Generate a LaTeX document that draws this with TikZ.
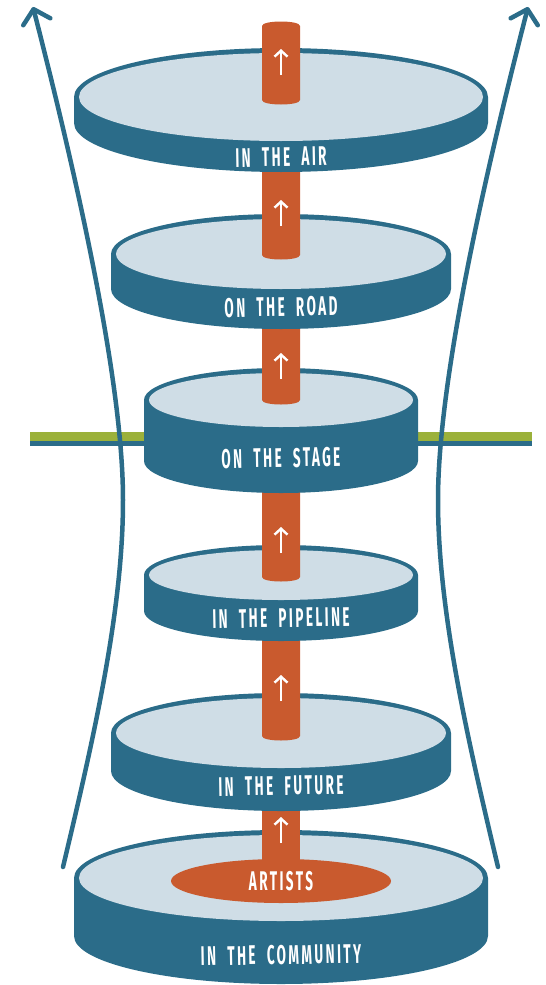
\documentclass[tikz,border=0pt]{standalone}
\usepackage{fontspec}
\newfontfamily\labelfont{Fira Sans}[FakeStretch=0.5,LetterSpace=9,WordSpace=2]
\usetikzlibrary{arrows.meta,positioning,calc}
\definecolor{discblue}{HTML}{2B6C89}
\definecolor{disctop}{HTML}{CFDDE6}
\definecolor{pillar}{HTML}{C95A2E}
\definecolor{barGreen}{HTML}{9BB13A}
\begin{document}
\begin{tikzpicture}[x=1pt,y=-1pt,
	rim/.style={fill=discblue},
	face/.style={fill=disctop},
	column/.style={fill=pillar},
	uparrow/.style={white,line width=2.4pt,-{Straight Barb[length=6pt,width=13pt]}},
	sidearrow/.style={discblue,line width=4.5pt,line cap=round,-{Straight Barb[length=13pt,width=28pt,round]}},
	disclabel/.style={text=white,font=\labelfont\bfseries\fontsize{27}{27}\selectfont,inner sep=0pt,rotate=1}]
	\useasboundingbox (0,0) rectangle (546,985);

	% stage line
	\fill[barGreen] (30,432) rectangle (532,441);
	\fill[discblue] (30,441) rectangle (532,446);

	% side arrows
	\coordinate (lbot) at (63,867);
	\coordinate (lmid) at (123,500);
	\coordinate (ltop) at (33,7);
	\coordinate (rbot) at (498,867);
	\coordinate (rmid) at (438,500);
	\coordinate (rtop) at (528,7);
	\draw[sidearrow] (lbot) .. controls (94,737) and (123,610) .. (lmid)
		.. controls (123,385) and (80,190) .. (ltop);
	\draw[sidearrow] (rbot) .. controls (467,737) and (438,610) .. (rmid)
		.. controls (438,385) and (481,190) .. (rtop);

	% Disc 6
	\fill[rim] (74,878) -- (74,936) arc[start angle=180,end angle=0,x radius=207,y radius=48] -- (488,878) arc[start angle=0,end angle=-180,x radius=207,y radius=48] -- cycle;
	\fill[face] (281,878) ellipse[x radius=202,y radius=43];
	\fill[column] (262,790) -- (262,880) -- (300,880) -- (300,790) -- cycle;
	\fill[column] (281,881) ellipse[x radius=110,y radius=22];
	\draw[uparrow] (281,843) -- (281,817);

	% Disc 5
	\fill[rim] (111,733) -- (111,771) arc[start angle=180,end angle=0,x radius=170,y radius=40] -- (451,733) arc[start angle=0,end angle=-180,x radius=170,y radius=40] -- cycle;
	\fill[face] (281,733) ellipse[x radius=165,y radius=35];
	\fill[column] (262,620) -- (262,736) .. controls (262,742) and (300,742) .. (300,736) -- (300,620) -- cycle;
	\draw[uparrow] (281,701) -- (281,675);

	% Disc 4
	\fill[rim] (144,575) -- (144,611) arc[start angle=180,end angle=0,x radius=137,y radius=30] -- (418,575) arc[start angle=0,end angle=-180,x radius=137,y radius=30] -- cycle;
	\fill[face] (281,575) ellipse[x radius=132,y radius=25];
	\fill[column] (262,470) -- (262,577) .. controls (262,583) and (300,583) .. (300,577) -- (300,470) -- cycle;
	\draw[uparrow] (281,553) -- (281,527);

	% Disc 3
	\fill[rim] (144,400) -- (144,461) arc[start angle=180,end angle=0,x radius=137,y radius=32] -- (418,400) arc[start angle=0,end angle=-180,x radius=137,y radius=32] -- cycle;
	\fill[face] (281,400) ellipse[x radius=132,y radius=27];
	\fill[column] (262,300) -- (262,400) .. controls (262,406) and (300,406) .. (300,400) -- (300,300) -- cycle;
	\draw[uparrow] (281,379) -- (281,353);

	% Disc 2
	\fill[rim] (111,254) -- (111,289) arc[start angle=180,end angle=0,x radius=170,y radius=40] -- (451,254) arc[start angle=0,end angle=-180,x radius=170,y radius=40] -- cycle;
	\fill[face] (281,254) ellipse[x radius=165,y radius=35];
	\fill[column] (262,150) -- (262,255) .. controls (262,261) and (300,261) .. (300,255) -- (300,150) -- cycle;
	\draw[uparrow] (281,226) -- (281,200);

	% Disc 1
	\fill[rim] (74,97) -- (74,123) arc[start angle=180,end angle=0,x radius=207,y radius=49] -- (488,97) arc[start angle=0,end angle=-180,x radius=207,y radius=49] -- cycle;
	\fill[face] (281,97) ellipse[x radius=202,y radius=44];
	\fill[column] (262,26) .. controls (262,20) and (300,20) .. (300,26) -- (300,100) .. controls (300,106) and (262,106) .. (262,100) -- cycle;
	\draw[uparrow] (281,75) -- (281,49);

	% labels
	\node[disclabel] (air) at (281,157) {IN THE AIR};
	\node[disclabel] (road) at (281,307) {ON THE ROAD};
	\node[disclabel] (stage) at (281,458) {ON THE STAGE};
	\node[disclabel] (pipeline) at (281,618) {IN THE PIPELINE};
	\node[disclabel] (future) at (281,786) {IN THE FUTURE};
	\node[disclabel] (community) at (281,955) {IN THE COMMUNITY};
	\node[disclabel,rotate=-1] (artists) at (281,881) {ARTISTS};
\end{tikzpicture}
\end{document}
